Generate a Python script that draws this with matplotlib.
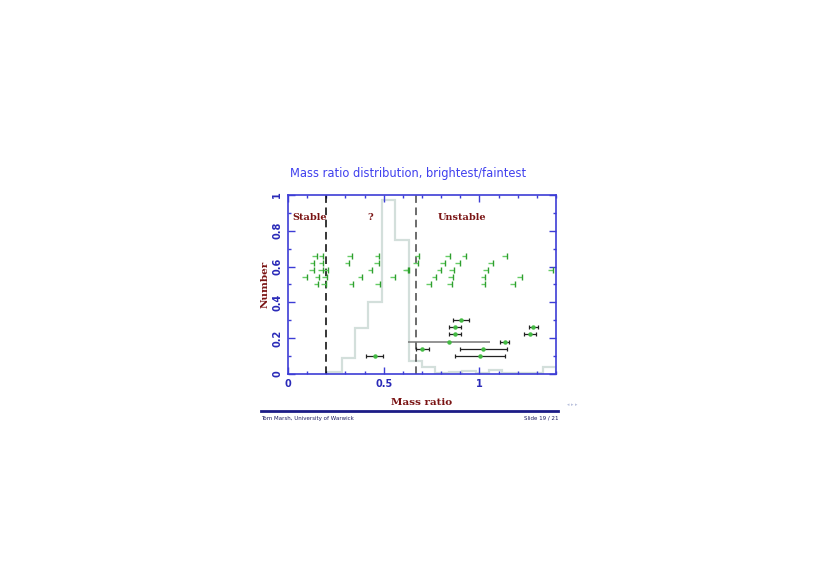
"""Mass ratio distribution slide: histogram, limits and measured ratios."""

import matplotlib

matplotlib.use("Agg")
import matplotlib.pyplot as plt
import numpy as np
from matplotlib.ticker import MultipleLocator

BLUE = "#3d3dd6"
DARKRED = "#7a1414"
GREEN = "#44bb44"

# histogram of the mass ratio distribution (bin edges every 0.07)
hist_edges = np.round(np.arange(0.21, 1.4001, 0.07), 2)
hist_vals = [0.011, 0.086, 0.255, 0.40, 0.97, 0.75, 0.072, 0.037, 0.006,
             0.012, 0.015, 0.005, 0.018, 0.005, 0.003, 0.003, 0.038]

# one-sided limits, rows of y = 0.50 ... 0.66
limit_y = [0.66] * 8 + [0.62] * 8 + [0.58] * 10 + [0.54] * 9 + [0.50] * 8
limit_x = [0.153, 0.185, 0.334, 0.478, 0.686, 0.845, 0.932, 1.145,
           0.138, 0.185, 0.321, 0.473, 0.679, 0.818, 0.897, 1.070,
           0.136, 0.182, 0.208, 0.441, 0.627, 0.801, 0.867, 1.046, 1.385, 0.634,
           0.098, 0.164, 0.203, 0.389, 0.557, 0.775, 0.862, 1.031, 1.220,
           0.159, 0.199, 0.342, 0.482, 0.745, 0.857, 1.031, 1.185]

# measured mass ratios with ranges
meas_q = [0.902, 0.871, 1.281, 0.871, 1.262, 1.133, 0.702, 1.021, 1.002, 0.452]
meas_lo = [0.860, 0.839, 1.260, 0.839, 1.232, 1.110, 0.670, 0.901, 0.871, 0.408]
meas_hi = [0.944, 0.904, 1.304, 0.904, 1.297, 1.155, 0.737, 1.145, 1.134, 0.496]
meas_y = [0.30, 0.26, 0.26, 0.22, 0.22, 0.18, 0.14, 0.14, 0.10, 0.10]

# the one poorly constrained system
wide_q, wide_lo, wide_hi, wide_y = 0.843, 0.627, 1.054, 0.18

fig = plt.figure(figsize=(8.17, 5.78), dpi=100)
ax = fig.add_axes([0.3525, 0.3535, 0.328, 0.309])

ax.stairs(hist_vals, hist_edges, color="#d3dfdb", lw=1.6)

ax.axvline(0.2, color="black", ls=(0, (5, 3)), lw=1.1)
ax.axvline(0.667, color="#444444", ls=(0, (5, 3)), lw=1.1)

lx = np.array(limit_x)
ax.hlines(limit_y, lx - 0.025, lx, color="#66cc66", lw=1.0)
ax.plot(lx, limit_y, "|", color="#2f9f2f", ms=4, mew=1.0, ls="none")

ax.errorbar([wide_q], [wide_y], xerr=[[wide_q - wide_lo], [wide_hi - wide_q]],
            fmt="none", ecolor="#777777", elinewidth=1.1, capsize=0)
q = np.array(meas_q)
ax.errorbar(q, meas_y, xerr=[q - np.array(meas_lo), np.array(meas_hi) - q],
            fmt="none", ecolor="#222222", elinewidth=0.9, capsize=1.6, capthick=0.9)
ax.plot(list(q) + [wide_q], meas_y + [wide_y], "o", color=GREEN, ms=2.2, ls="none")

ax.set_xlim(0, 1.4)
ax.set_ylim(0, 1)
ax.xaxis.set_major_locator(MultipleLocator(0.5))
ax.xaxis.set_minor_locator(MultipleLocator(0.1))
ax.yaxis.set_major_locator(MultipleLocator(0.2))
ax.yaxis.set_minor_locator(MultipleLocator(0.1))
ax.set_xticks([0, 0.5, 1], ["0", "0.5", "1"])
ax.set_yticks([0, 0.2, 0.4, 0.6, 0.8, 1], ["0", "0.2", "0.4", "0.6", "0.8", "1"])
ax.tick_params(which="both", direction="in", top=True, right=True, color=BLUE, width=1.0)
ax.tick_params(which="major", length=5, labelsize=7, labelcolor="#2a2ab8")
ax.tick_params(which="minor", length=2.5)
ax.tick_params(axis="x", pad=4)
ax.tick_params(axis="y", pad=4)
for lab in ax.get_yticklabels():
    lab.set_rotation(90)
    lab.set_va("center")
    lab.set_fontweight("bold")
for lab in ax.get_xticklabels():
    lab.set_fontweight("bold")
for sp in ax.spines.values():
    sp.set_color(BLUE)
    sp.set_linewidth(1.2)

serif = dict(family="DejaVu Serif", fontweight="bold", color=DARKRED)
ax.set_xlabel("Mass ratio", fontsize=7.5, labelpad=6, **serif)
ax.set_ylabel("Number", fontsize=7.5, labelpad=2, **serif)
ax.text(0.015, 0.86, "Stable", fontsize=7, transform=ax.transAxes, **serif)
ax.text(0.295, 0.86, "?", fontsize=7, transform=ax.transAxes, **serif)
ax.text(0.56, 0.86, "Unstable", fontsize=7, transform=ax.transAxes, **serif)

fig.text(408 / 817, 1 - 173 / 578, "Mass ratio distribution, brightest/faintest",
         fontsize=8.3, color="#4040ee", ha="center", va="center")

fig.add_artist(plt.Line2D([261 / 817, 558 / 817], [1 - 410.7 / 578] * 2,
                          color="#1c1c86", lw=2.0))
fig.text(261 / 817, 1 - 418.5 / 578, "Tom Marsh, University of Warwick",
         fontsize=4, color="#1c1c60", ha="left", va="center")
fig.text(558 / 817, 1 - 418.5 / 578, "Slide 19 / 21",
         fontsize=4, color="#1c1c60", ha="right", va="center")
fig.text(572 / 817, 1 - 405 / 578, "◂ ▸ ▸", fontsize=3.5, color="#b8c0dc",
         ha="center", va="center")

fig.savefig("out.png", dpi=100)
